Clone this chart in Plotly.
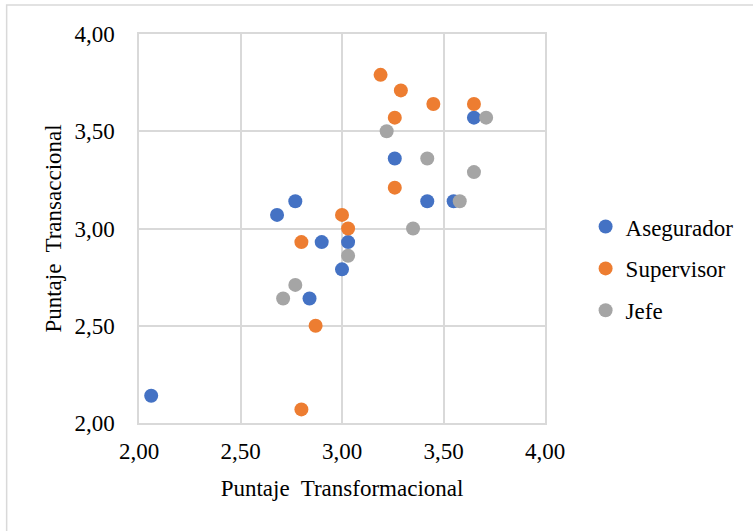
import plotly.graph_objects as go

series_names = ["Asegurador", "Supervisor", "Jefe"]
colors = ["#4472C4", "#ED7D31", "#A5A5A5"]

aseg_x = [2.06, 2.77, 2.68, 2.90, 3.03, 3.00, 2.84, 3.26, 3.42, 3.55, 3.65]
aseg_y = [2.14, 3.14, 3.07, 2.93, 2.93, 2.79, 2.64, 3.36, 3.14, 3.14, 3.57]

sup_x = [3.19, 3.29, 3.45, 3.65, 3.26, 3.26, 3.00, 3.03, 2.80, 2.87, 2.80]
sup_y = [3.79, 3.71, 3.64, 3.64, 3.57, 3.21, 3.07, 3.00, 2.93, 2.50, 2.07]

jefe_x = [3.22, 3.71, 3.42, 3.65, 3.58, 3.35, 3.03, 2.77, 2.71]
jefe_y = [3.50, 3.57, 3.36, 3.29, 3.14, 3.00, 2.86, 2.71, 2.64]

tick_vals = [2.0, 2.5, 3.0, 3.5, 4.0]
tick_text = ["2,00", "2,50", "3,00", "3,50", "4,00"]

FONT = "Liberation Serif"
FS = 23
fig = go.Figure()
for name, xs, ys, c in zip(series_names, [aseg_x, sup_x, jefe_x],
                           [aseg_y, sup_y, jefe_y], colors):
    fig.add_trace(go.Scatter(x=xs, y=ys, mode="markers", name=name,
                             legendgroup=name,
                             marker=dict(size=14, color=c)))

axis_common = dict(range=[2, 4], tickvals=tick_vals, ticktext=tick_text,
                   showgrid=True, gridcolor="#d9d9d9", gridwidth=1.5,
                   showline=True, mirror=True, linecolor="#d9d9d9", linewidth=1.5,
                   zeroline=False, ticks="", tickfont=dict(family=FONT, size=FS, color="#000"))

fig.update_xaxes(**axis_common, ticklabelstandoff=7,
                 title=dict(text="Puntaje  Transformacional",
                            font=dict(family=FONT, size=FS, color="#000"), standoff=17))
fig.update_yaxes(**axis_common, ticklabelstandoff=18,
                 title=dict(text="Puntaje  Transaccional",
                            font=dict(family=FONT, size=FS, color="#000"), standoff=6))

fig.add_shape(type="rect", xref="paper", yref="paper",
              x0=-0.326, x1=2.0, y0=-1.0, y1=1.0745,
              line=dict(color="#d9d9d9", width=1.5), fillcolor="rgba(0,0,0,0)", layer="below")

fig.update_layout(
    width=753, height=531,
    margin=dict(l=139, r=208, t=34, b=108),
    paper_bgcolor="white", plot_bgcolor="white",
    font=dict(family=FONT, size=FS, color="#000"),
    legend=dict(x=1.10, xanchor="left", y=0.397, yanchor="middle",
                font=dict(family=FONT, size=FS, color="#000"),
                tracegroupgap=9, bgcolor="rgba(0,0,0,0)"),
    showlegend=True,
)

fig.write_html("out.html")
